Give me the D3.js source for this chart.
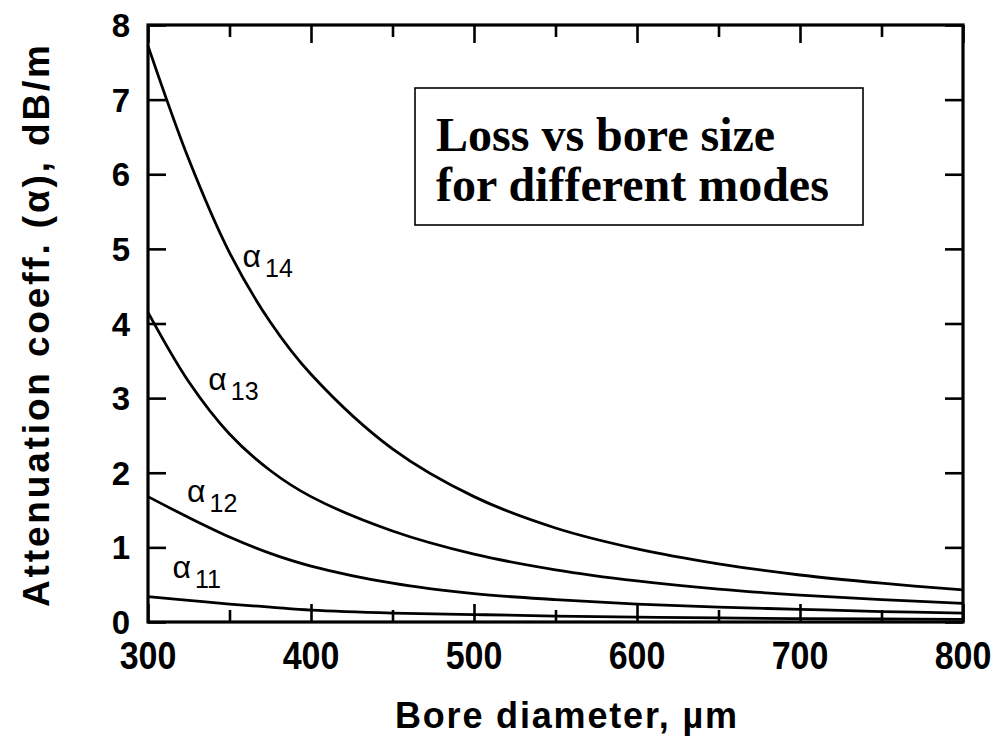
<!DOCTYPE html>
<html>
<head>
<meta charset="utf-8">
<script src="https://cdn.jsdelivr.net/npm/d3@7"></script>
<style>
  html, body { margin: 0; padding: 0; background: #fff; }
  svg { display: block; }
</style>
</head>
<body>
<svg id="chart" width="995" height="746"></svg>
<script>
// ---- data ----
const boreDiameter = [300, 325, 350, 375, 400, 450, 500, 550, 600, 650, 700, 750, 800];
const alpha14 = [7.72, 6.20, 4.95, 4.02, 3.32, 2.32, 1.68, 1.26, 0.98, 0.78, 0.63, 0.52, 0.43];
const alpha13 = [4.15, 3.22, 2.52, 2.03, 1.68, 1.22, 0.91, 0.70, 0.55, 0.44, 0.36, 0.30, 0.25];
const alpha12 = [1.68, 1.40, 1.14, 0.92, 0.75, 0.52, 0.38, 0.30, 0.24, 0.20, 0.17, 0.14, 0.12];
const alpha11 = [0.34, 0.29, 0.24, 0.20, 0.16, 0.12, 0.10, 0.08, 0.065, 0.055, 0.045, 0.04, 0.035];
const seriesNames = ["14", "13", "12", "11"];
const xTickLabels = [300, 400, 500, 600, 700, 800];
const xMinorTicks = [350, 450, 550, 650, 750];
const yTickLabels = [0, 1, 2, 3, 4, 5, 6, 7, 8];
// label anchors in data units (bore diameter, attenuation)
const labelX = [358, 337, 324, 315];
const labelY = [4.76, 3.11, 1.61, 0.59];
const titleLines = ["Loss vs bore size", "for different modes"];
const xTitle = "Bore diameter, \u00b5m";
const yTitle = "Attenuation coeff. (\u03b1), dB/m";

const series = [alpha14, alpha13, alpha12, alpha11];

// ---- layout ----
const L = 148, R = 963, T = 25, B = 622;
const svg = d3.select("#chart");
svg.append("rect").attr("width", 995).attr("height", 746).attr("fill", "#fff");

const x = d3.scaleLinear().domain([300, 800]).range([L, R]);
const y = d3.scaleLinear().domain([0, 8]).range([B, T]);

const sans = "'Liberation Sans', Arial, Helvetica, sans-serif";
const serif = "'Liberation Serif', 'Times New Roman', serif";

// ticks via d3 axes (inward)
const major = 18, minor = 12;
function addAxis(gen, transform) {
  const g = svg.append("g").attr("transform", transform).call(gen);
  g.select(".domain").remove();
  g.selectAll(".tick line").attr("stroke", "#000").attr("stroke-width", 2.6);
  g.selectAll(".tick text").remove();
  return g;
}
addAxis(d3.axisBottom(x).tickValues(xTickLabels).tickSize(-major).tickFormat(""), `translate(0,${B})`);
addAxis(d3.axisBottom(x).tickValues(xMinorTicks).tickSize(-minor).tickFormat(""), `translate(0,${B})`);
addAxis(d3.axisTop(x).tickValues(xTickLabels).tickSize(-major).tickFormat(""), `translate(0,${T})`);
addAxis(d3.axisTop(x).tickValues(xMinorTicks).tickSize(-minor).tickFormat(""), `translate(0,${T})`);
addAxis(d3.axisLeft(y).tickValues(yTickLabels).tickSize(-major).tickFormat(""), `translate(${L},0)`);
addAxis(d3.axisRight(y).tickValues(yTickLabels).tickSize(-major).tickFormat(""), `translate(${R},0)`);

// curves
const line = d3.line()
  .x((d, i) => x(boreDiameter[i]))
  .y(d => y(d))
  .curve(d3.curveCatmullRom.alpha(0.5));
svg.append("g").selectAll("path").data(series).join("path")
  .attr("d", d => line(d))
  .attr("fill", "none")
  .attr("stroke", "#000")
  .attr("stroke-width", 2.8);

// frame
svg.append("rect")
  .attr("x", L).attr("y", T).attr("width", R - L).attr("height", B - T)
  .attr("fill", "none").attr("stroke", "#000").attr("stroke-width", 3.2);

// y tick labels
svg.append("g").selectAll("text").data(yTickLabels).join("text")
  .attr("x", 130).attr("y", d => y(d) + 12)
  .attr("text-anchor", "end")
  .attr("font-family", sans).attr("font-weight", "bold").attr("font-size", 33)
  .text(d => d);

// x tick labels (slightly tall glyphs)
svg.append("g").selectAll("text").data(xTickLabels).join("text")
  .attr("transform", d => `translate(${x(d)},669) scale(1,1.15)`)
  .attr("text-anchor", "middle")
  .attr("font-family", sans).attr("font-weight", "bold").attr("font-size", 34)
  .text(d => d);

// axis titles
svg.append("text")
  .attr("x", 395).attr("y", 728)
  .attr("font-family", sans).attr("font-weight", "bold").attr("font-size", 36)
  .attr("textLength", 342).attr("lengthAdjust", "spacing")
  .text(xTitle);

svg.append("text")
  .attr("transform", "translate(49,607) rotate(-90)")
  .attr("font-family", sans).attr("font-weight", "bold").attr("font-size", 37)
  .attr("textLength", 562).attr("lengthAdjust", "spacing")
  .text(yTitle);

// series labels
const lab = svg.append("g").selectAll("text").data(seriesNames).join("text")
  .attr("x", (d, i) => x(labelX[i]))
  .attr("y", (d, i) => y(labelY[i]))
  .attr("font-family", sans).attr("font-size", 32);
lab.append("tspan").text("\u03b1");
lab.append("tspan").attr("dx", 4).attr("dy", 10).attr("font-size", 25).text(d => d);

// title box
svg.append("rect")
  .attr("x", 415).attr("y", 88).attr("width", 448).attr("height", 137)
  .attr("fill", "#fff").attr("stroke", "#000").attr("stroke-width", 1.6);
svg.append("g").selectAll("text").data(titleLines).join("text")
  .attr("x", 436).attr("y", (d, i) => 151 + i * 50)
  .attr("font-family", serif).attr("font-weight", "bold").attr("font-size", 48)
  .text(d => d);
</script>
</body>
</html>
